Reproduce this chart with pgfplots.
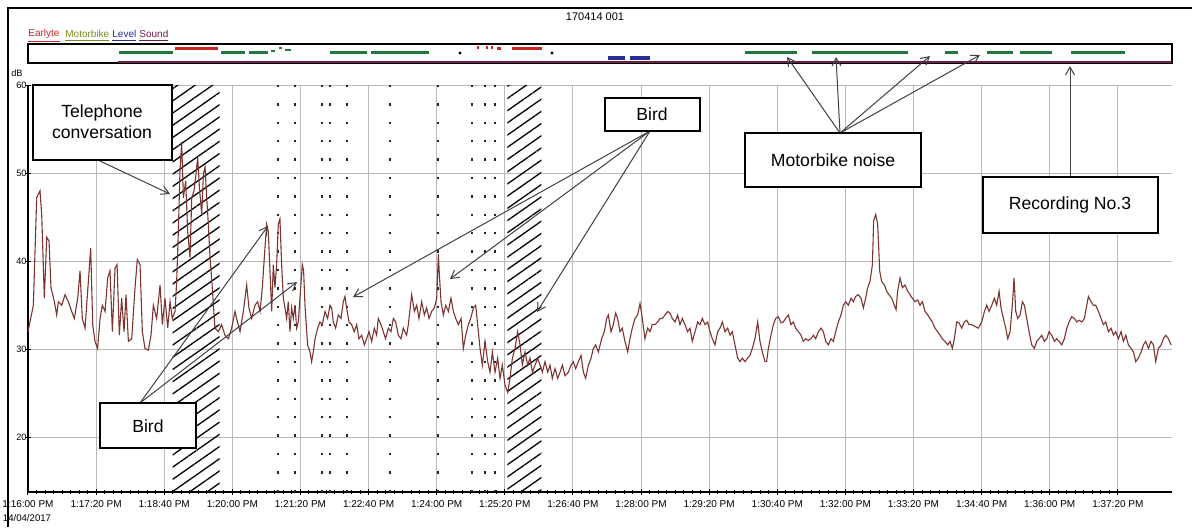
\documentclass[border=0pt]{standalone}
\usepackage{fontspec}
\setmainfont{Liberation Sans}
\usepackage{pgfplots}
\pgfplotsset{compat=1.18}
\usetikzlibrary{arrows.meta,patterns.meta}

\definecolor{trace}{RGB}{125,52,48}
\definecolor{evred}{RGB}{205,35,35}
\definecolor{evgreen}{RGB}{35,120,60}
\definecolor{evolive}{RGB}{120,140,30}
\definecolor{evblue}{RGB}{40,45,150}
\definecolor{evpurple}{RGB}{110,30,70}

\newcommand{\boxfont}{\fontsize{8.8}{10.5}\selectfont}

\begin{document}
\begin{tikzpicture}
\useasboundingbox (0pt,0pt) rectangle (597pt,-263.5pt);

\begin{axis}[
  at={(14pt,-246pt)}, anchor=south west,
  scale only axis, width=572pt, height=203.5pt,
  xmin=0, xmax=1343.6, ymin=13.8, ymax=60,
  axis x line=bottom, axis y line=left,
  axis line style={-, line width=1pt, black},
  xtick={0,80,...,1280},
  xticklabels={1:16:00 PM,1:17:20 PM,1:18:40 PM,1:20:00 PM,1:21:20 PM,1:22:40 PM,1:24:00 PM,1:25:20 PM,1:26:40 PM,1:28:00 PM,1:29:20 PM,1:30:40 PM,1:32:00 PM,1:33:20 PM,1:34:40 PM,1:36:00 PM,1:37:20 PM},
  minor x tick num=7,
  ytick={20,30,40,50,60},
  grid=major,
  major grid style={gray!55, line width=0.5pt},
  tick style={black, line width=0.5pt},
  major tick length=3pt, minor tick length=1.6pt,
  tick align=center,
  ticklabel style={font=\fontsize{5}{6}\selectfont},
  xticklabel style={yshift=0.8pt},
  yticklabel style={font=\fontsize{4.6}{5}\selectfont, inner sep=0.5pt, xshift=1.5pt},
  /pgf/number format/assume math mode=true,
]
% hatched event regions
\fill[pattern={Lines[angle=35,distance=5pt,line width=0.65pt]}] (axis cs:170,13.8) rectangle (axis cs:225,60);
\fill[pattern={Lines[angle=35,distance=5pt,line width=0.65pt]}] (axis cs:563,13.8) rectangle (axis cs:603,60);
% dotted event markers
\foreach \t in {293.6,313.6,345.3,354.7,374.7,425.2,481.5,521.5,536.7,548.5}{
  \edef\tmp{\noexpand\draw[black!85, line width=0.6pt, dash pattern=on 1.2pt off 8pt] (axis cs:\t,13.8) -- (axis cs:\t,60);}
  \tmp
}

\addplot[trace, line width=0.55pt] coordinates {
(0,32.0)(6.3,35.0)(10.2,47.2)(14.1,48.0)(16.1,45.3)(19.2,35.8)(22.0,42.7)(24.7,42.3)(27.0,37.0)(31.0,35.4)(33.7,33.9)(35.7,35.4)(39.6,35.0)(43.5,36.2)(47.4,35.4)(51.3,34.3)(54.4,33.5)(58.4,35.8)(61.1,38.9)(63.8,33.5)(67.0,32.4)(70.9,37.7)(73.6,41.5)(76.0,32.8)(78.7,30.9)(81.8,30.1)(84.6,33.5)(87.3,35.0)(90.5,34.3)(93.6,38.1)(96.3,38.9)(99.1,32.0)(102.2,39.2)(104.6,39.6)(107.3,31.6)(110.0,35.8)(112.8,32.0)(115.1,36.2)(117.9,30.9)(121.8,31.2)(125.7,37.0)(128.4,40.2)(131.6,39.6)(134.3,32.0)(137.4,30.1)(141.4,29.9)(144.5,31.6)(147.2,35.0)(151.1,33.5)(155.1,37.3)(157.8,32.8)(160.9,35.8)(164.1,32.4)(166.8,35.4)(169.5,33.5)(172.7,34.3)(174.6,37.7)(176.6,43.4)(178.5,50.3)(180.5,53.5)(182.5,47.2)(185.2,49.1)(187.5,43.4)(190.3,40.4)(192.3,47.2)(195.0,48.0)(197.3,49.9)(199.3,51.8)(201.3,48.4)(204.0,45.3)(206.0,49.9)(207.9,50.7)(209.9,47.2)(211.8,44.2)(213.8,40.4)(215.7,38.0)
(219.6,32.4)(223.5,32.0)(227.4,32.8)(231.3,31.6)(235.3,31.2)(239.2,32.4)(243.1,34.3)(245.0,33.5)(249.0,32.0)(252.9,34.3)(256.8,37.3)(259.5,34.7)(262.7,33.5)(266.6,35.0)(269.7,35.4)(272.5,34.3)(275.2,37.0)(278.3,41.5)(280.3,44.2)(282.2,43.4)(284.2,38.9)(286.2,34.3)(288.1,39.6)(290.1,37.0)(292.0,39.6)(294.0,44.2)(295.9,44.8)(297.9,39.6)(299.9,35.8)(301.8,34.7)(303.8,33.5)(305.7,35.4)(307.7,32.0)(309.6,34.7)(311.6,33.5)(313.6,35.0)(315.5,32.4)(317.5,33.1)(319.4,35.8)(322.2,39.6)(323.7,38.9)(325.3,35.0)(328.4,30.5)(331.2,29.7)(333.1,28.6)(335.1,29.7)(337.1,31.2)(340.2,32.4)(342.9,33.1)(345.7,32.8)(348.8,34.3)(351.9,33.5)(354.7,35.0)(356.6,34.7)(358.6,33.1)(361.3,32.4)(364.5,33.9)(367.6,33.5)(370.3,35.4)(372.3,36.0)(374.2,34.7)(377.0,33.1)(380.1,32.8)(383.2,32.0)(386.0,32.8)(388.7,31.2)(391.9,31.6)(395.0,30.5)(397.7,31.2)(400.5,32.0)(403.6,30.9)(406.7,32.4)(409.5,31.6)(411.4,33.5)(414.6,32.8)(417.3,32.0)(420.0,31.2)(423.2,32.4)(426.3,32.0)(429.1,33.5)(431.8,33.1)(434.9,31.6)(438.1,31.2)(440.8,32.4)(444.7,31.6)
(446.7,32.8)(450.6,36.2)(453.8,34.3)(456.5,35.0)(459.2,33.5)(462.4,35.4)(465.5,33.9)(468.2,34.7)(471.0,33.5)(474.1,34.3)(477.3,34.7)(480.0,35.8)(482.0,40.8)(483.1,38.5)(485.1,35.4)(487.8,33.9)(490.6,35.0)(493.7,34.3)(496.8,35.8)(499.6,34.3)(502.3,33.5)(505.4,32.8)(508.6,33.5)(511.3,30.1)(514.1,31.6)(517.2,32.8)(519.9,33.5)(523.1,34.7)(525.8,35.0)(528.1,32.8)(530.9,30.1)(533.6,28.2)(536.8,30.9)(539.9,28.6)(542.6,27.4)(545.4,29.7)(548.5,27.4)(551.6,29.0)(554.4,26.7)(557.1,28.2)(560.3,25.9)(563.4,25.1)(566.1,26.7)(568.9,29.0)(572.0,30.1)(575.1,32.0)(577.9,30.5)(580.6,28.2)(583.7,29.7)(586.9,28.2)(589.6,29.0)(592.4,27.4)(595.5,28.2)(598.6,29.0)(601.4,28.2)(604.1,27.4)(607.2,28.6)(610.4,27.4)(613.1,28.2)(615.8,26.7)(619.0,27.8)(622.1,26.7)(624.9,27.4)(627.6,28.2)(630.7,27.0)(634.6,27.4)(637.8,28.2)(640.5,28.6)(643.2,27.8)(646.4,28.6)(649.5,29.3)(652.3,27.4)(655.0,26.7)(658.1,28.2)(661.3,29.0)(664.0,30.1)(666.7,30.5)(669.9,29.7)
(673.7,31.2)(676.9,32.0)(679.6,33.5)(681.6,33.9)(684.7,32.0)(687.4,32.8)(690.2,34.1)(692.5,33.5)(695.3,32.0)(698.0,32.4)(701.1,30.9)(704.3,29.7)(707.0,31.2)(709.7,32.4)(712.9,33.5)(716.0,33.9)(718.8,35.2)(721.5,33.5)(724.6,31.2)(727.8,32.4)(730.5,32.0)(733.2,32.8)(736.4,32.8)(739.5,33.1)(742.2,33.5)(745.0,33.5)(748.1,33.9)(751.3,34.3)(754.0,34.1)(756.7,33.5)(759.9,33.1)(763.0,33.9)(765.7,32.8)(768.5,33.5)(771.6,32.8)(774.7,32.0)(777.5,32.4)(780.2,30.9)(783.4,32.0)(786.5,33.1)(789.2,32.8)(792.0,33.5)(795.1,32.8)(798.2,33.1)(801.0,32.0)(803.7,31.2)(806.8,30.5)(810.0,32.0)(812.7,32.4)(815.5,33.1)(818.6,32.0)(821.7,32.4)(824.5,31.6)(827.2,32.0)(830.3,30.5)(833.5,29.0)(836.2,28.6)(838.9,29.0)(842.1,28.6)(845.2,29.0)(847.9,29.3)(850.7,30.1)(853.8,31.2)(857.0,33.1)(859.7,30.9)(862.4,29.7)(865.6,28.6)(867.5,28.6)(869.5,30.1)(872.6,31.6)(875.4,32.8)(878.1,33.5)(881.2,33.7)(884.4,33.0)(887.1,33.1)(889.8,33.5)
(893.0,33.9)(896.1,32.8)(898.9,33.1)(901.6,32.4)(904.8,32.0)(907.9,31.6)(910.6,30.9)(913.4,31.2)(916.5,31.0)(919.6,31.2)(922.4,31.6)(925.1,31.2)(928.3,32.0)(931.4,32.4)(934.1,32.0)(936.9,30.9)(940.0,30.5)(943.1,31.2)(945.9,30.9)(948.6,32.0)(951.7,33.1)(954.9,33.9)(957.6,35.0)(960.4,35.4)(963.5,35.0)(966.6,35.8)(969.4,35.4)(972.1,36.0)(975.2,36.2)(978.4,35.8)(981.1,34.7)(983.8,35.8)(986.2,37.0)(988.9,37.7)(991.7,39.6)(993.2,44.6)(995.6,45.3)(997.9,44.2)(1000.3,38.9)(1002.6,37.7)(1005.8,37.3)(1008.5,36.6)(1011.2,36.2)(1014.4,35.8)(1017.5,35.0)(1019.5,34.5)(1021.4,36.6)(1024.2,38.1)(1026.9,37.0)(1030.0,37.3)(1033.2,36.6)(1035.9,36.2)(1038.6,35.8)(1041.8,35.4)(1044.9,35.6)(1047.7,35.0)(1050.4,35.4)(1053.5,34.3)(1056.7,33.9)(1059.4,33.5)(1062.1,33.1)(1065.3,32.4)(1068.4,32.0)(1071.1,31.6)(1073.9,31.2)(1077.0,30.9)(1080.2,30.5)(1082.9,30.9)(1085.6,30.1)(1088.0,31.2)(1090.7,33.1)(1093.5,33.0)(1096.6,32.4)(1099.7,33.1)(1102.5,33.3)(1105.2,32.8)(1108.3,32.8)(1112.2,32.6)
(1116.2,32.4)(1120.1,33.1)(1123.3,34.3)(1126.0,35.0)(1128.7,34.3)(1131.9,35.0)(1135.0,35.8)(1137.7,35.0)(1140.5,36.6)(1142.8,34.7)(1145.6,33.5)(1148.3,32.4)(1150.7,31.2)(1153.4,32.0)(1156.1,35.0)(1158.1,38.1)(1160.1,34.3)(1162.4,33.5)(1165.2,33.9)(1167.9,35.4)(1170.2,35.0)(1173.0,33.5)(1175.7,32.0)(1178.9,30.5)(1182.0,30.1)(1184.7,30.9)(1187.5,31.2)(1190.6,31.6)(1193.7,30.9)(1196.5,31.2)(1199.2,32.0)(1202.3,31.6)(1205.5,30.9)(1208.2,31.2)(1211.0,30.9)(1214.1,30.5)(1217.2,31.2)(1220.0,32.4)(1222.7,33.1)(1225.8,33.7)(1229.0,33.5)(1231.7,33.1)(1234.5,33.3)(1237.6,33.1)(1240.7,33.5)(1243.5,35.0)(1245.4,36.0)(1248.5,35.4)(1251.3,35.0)(1254.0,35.0)(1257.2,34.3)(1260.3,33.5)(1263.0,32.8)(1265.8,33.1)(1268.9,32.0)(1272.0,32.4)(1274.8,31.6)(1277.5,32.0)(1280.6,31.2)(1283.8,32.0)(1286.5,30.9)(1289.3,31.6)(1292.4,30.5)(1295.5,30.1)(1298.3,29.7)(1301.0,28.6)(1304.1,29.0)(1307.3,29.7)(1310.0,30.5)(1312.7,30.9)(1315.9,30.1)(1319.0,30.9)(1321.8,30.5)(1324.5,28.6)(1327.6,30.1)(1330.8,30.5)(1333.5,31.2)(1336.2,31.6)(1339.4,31.2)(1342.5,30.5)
};
\end{axis}

% overlay drawn in reference pixel units (y down)
\begin{scope}[x=0.5pt,y=-0.5pt]
  % outer frame
  \draw[black, line width=0.8pt] (8,527) -- (8,8) -- (1192,8);
  \node[font=\fontsize{5.5}{6}\selectfont] at (595,17) {170414 001};
  \node[font=\fontsize{4.6}{5}\selectfont, inner sep=0] at (17,73) {dB};
  \node[font=\fontsize{4.8}{6}\selectfont, inner sep=0] at (27,518) {14/04/2017};

  % event legend
  \tikzset{leg/.style={anchor=west, inner sep=0, font=\fontsize{5}{6}\selectfont}}
  \node[leg, text=evred] at (28,36) {\underline{Earlyte}};
  \node[leg, text=evolive] at (65,36) {\underline{Motorbike}};
  \node[leg, text=evblue] at (112,36) {\underline{Level}};
  \node[leg, text=evpurple] at (139,36) {\underline{Sound}};

  % event strip
  \draw[black, line width=0.6pt] (28,44) rectangle (1172,63);
  \draw[evpurple, line width=1.2pt] (118,62) -- (1172,62);
  \draw[evgreen, line width=1.5pt] (119,52) -- (173,52) (221,52) -- (245,52) (249,52) -- (268,52)
     (330,52) -- (367,52) (371,52) -- (429,52)
     (745,52) -- (797,52) (812,52) -- (908,52) (945,52) -- (958,52)
     (987,52) -- (1013,52) (1020,52) -- (1052,52) (1071,52) -- (1125,52);
  \draw[evgreen, line width=1pt] (271,51) -- (275,51) (279,48) -- (282,48) (285,50) -- (291,50);
  \draw[evred, line width=1.5pt] (175,48) -- (218,48) (512,48) -- (542,48)
     (477,47) -- (479,47) (486,47) -- (488,47) (491,47) -- (493,47) (497,48) -- (501,48);
  \fill[black] (460,53) circle (1.6) (552,53) circle (1.6);
  \draw[evblue, line width=1.8pt] (608,58) -- (625,58) (630,58) -- (650,58);

  % annotation boxes
  \tikzset{ann/.style={draw=black, line width=0.7pt, fill=white},
           arr/.style={black!75, line width=0.5pt, -{Straight Barb[length=4pt,width=4.5pt]}}}
  \draw[arr] (100,161) -- (170,194);
  \draw[arr] (140,403) -- (268,226);
  \draw[arr] (140,403) -- (297,282);
  \draw[arr] (650,131) -- (353,297);
  \draw[arr] (650,131) -- (450,279);
  \draw[arr] (650,131) -- (537,312);
  \draw[arr] (840,133) -- (787,57);
  \draw[arr] (840,133) -- (836,57);
  \draw[arr] (840,133) -- (930,56);
  \draw[arr] (840,133) -- (980,55);
  \draw[arr] (1070,177) -- (1070,66);

  \draw[ann] (33,85) rectangle (172,160);
  \node[font=\boxfont, align=center] at (102,122) {Telephone\\conversation};
  \draw[ann] (100,403) rectangle (196,448);
  \node[font=\boxfont] at (148,426) {Bird};
  \draw[ann] (605,98) rectangle (700,131);
  \node[font=\boxfont] at (652,114) {Bird};
  \draw[ann] (745,133) rectangle (921,187);
  \node[font=\boxfont] at (833,160) {Motorbike noise};
  \draw[ann] (983,177) rectangle (1158,233);
  \node[font=\boxfont] at (1070,205) {Recording No.3};
\end{scope}
\end{tikzpicture}
\end{document}
